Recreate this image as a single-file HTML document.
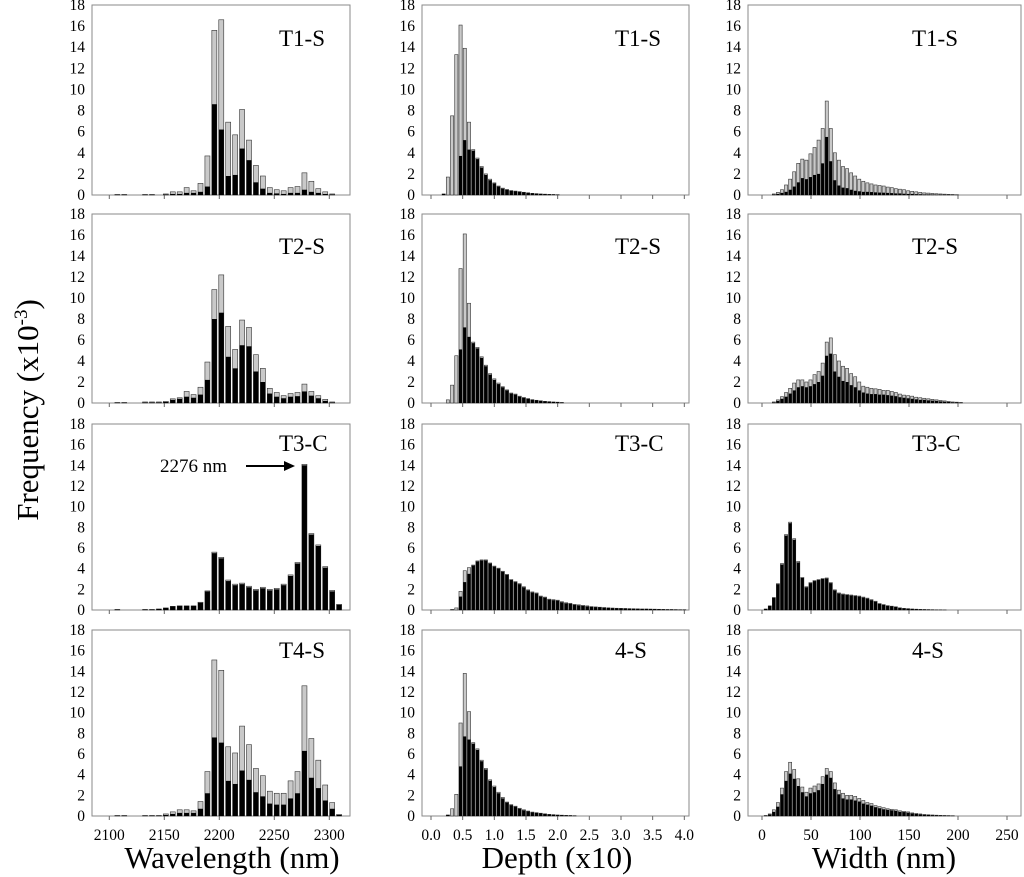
<!DOCTYPE html>
<html><head><meta charset="utf-8">
<style>
html,body{margin:0;padding:0;background:#fff;}
svg{display:block;font-family:"Liberation Serif",serif;}
</style></head>
<body>
<svg id="fig" width="1024" height="877" viewBox="0 0 1024 877" xmlns="http://www.w3.org/2000/svg">
<text x="0" y="0" transform="translate(38,410) rotate(-90)" text-anchor="middle" font-size="31">Frequency (x10<tspan dy="-11" font-size="19">-3</tspan><tspan dy="11">)</tspan></text>
<text x="232" y="868" text-anchor="middle" font-size="31">Wavelength (nm)</text>
<text x="557" y="868" text-anchor="middle" font-size="31">Depth (x10)</text>
<text x="884" y="868" text-anchor="middle" font-size="31">Width (nm)</text>
</svg>
<script>
// ---------- Wavelength column (bins: 2101 + 6.3*k) ----------
const wlStep = 6.3;
const wlStart = 2101;
const wlT1Idx = [1,2,5,6,8,9,10,11,12,13,14,15,16,17,18,19,20,21,22,23,24,25,26,27,28,29,30,31,32];
const wlT1Tot = [0.05,0.05,0.05,0.05,0.1,0.3,0.3,0.7,0.4,1.1,3.7,15.6,16.6,6.9,5.7,8.1,5.2,2.8,1.8,0.7,0.5,0.4,0.7,0.8,2.1,1.3,0.6,0.3,0.1];
const wlT1Blk = [0.02,0.02,0.02,0.02,0.05,0.1,0.1,0.2,0.2,0.3,0.8,8.6,6.2,1.8,1.9,4.4,3.3,1.2,0.6,0.2,0.15,0.1,0.2,0.2,0.5,0.3,0.2,0.1,0.05];
const wlT2Idx = [1,2,5,6,7,8,9,10,11,12,13,14,15,16,17,18,19,20,21,22,23,24,25,26,27,28,29,30,31,32];
const wlT2Tot = [0.05,0.05,0.1,0.1,0.1,0.15,0.4,0.5,1.1,0.8,1.5,3.9,10.8,12.2,7.3,5.1,7.9,7.2,4.6,3.3,1.4,1.0,0.7,0.9,1.0,1.8,1.1,0.7,0.35,0.1];
const wlT2Blk = [0.02,0.02,0.05,0.05,0.05,0.1,0.3,0.4,0.6,0.5,0.8,2.2,8.0,8.6,4.4,3.3,5.5,5.4,3.0,2.0,0.9,0.6,0.45,0.6,0.65,1.1,0.7,0.45,0.2,0.05];
const wlT3Idx = [1,5,6,7,8,9,10,11,12,13,14,15,16,17,18,19,20,21,22,23,24,25,26,27,28,29,30,31,32,33];
const wlT3Blk = [0.05,0.05,0.05,0.1,0.2,0.35,0.4,0.4,0.4,0.7,1.8,5.5,5.0,2.8,2.4,2.5,2.2,1.9,2.1,1.9,2.0,2.4,3.3,4.5,14.0,7.3,6.2,4.1,1.8,0.5];
const wlT3Tot = [0.05,0.05,0.05,0.1,0.2,0.35,0.4,0.4,0.4,0.75,1.85,5.6,5.1,2.9,2.5,2.6,2.3,2.0,2.2,2.0,2.1,2.5,3.4,4.6,14.1,7.4,6.3,4.2,1.9,0.55];
const wlT4Idx = [1,2,5,6,7,8,9,10,11,12,13,14,15,16,17,18,19,20,21,22,23,24,25,26,27,28,29,30,31,32,33];
const wlT4Tot = [0.05,0.05,0.05,0.05,0.05,0.2,0.4,0.6,0.6,0.5,1.4,4.3,15.1,14.1,6.7,6.1,8.7,6.9,4.6,3.9,2.4,2.2,2.2,3.4,4.3,12.6,7.5,5.4,3.0,1.3,0.15];
const wlT4Blk = [0.02,0.02,0.02,0.02,0.02,0.1,0.2,0.3,0.3,0.3,0.7,2.2,7.6,7.1,3.4,3.1,4.4,3.5,2.3,1.9,1.2,1.1,1.1,1.7,2.2,6.3,3.7,2.7,1.5,0.7,0.1];
const wlTicks = [2100,2150,2200,2250,2300];

// ---------- Depth column (bins: k/15) ----------
const dpStep = 1/15;
const dpT1Start = 3;
const dpT1Tot = [0.1,1.7,7.5,13.3,16.1,13.9,6.9,4.3,3.5,2.7,2.0,1.5,1.15,0.85,0.65,0.52,0.42,0.37,0.32,0.26,0.21,0.16,0.13,0.1,0.08,0.06,0.05,0.03];
const dpT1Blk = [0.1,0,0,0,3.7,5.2,4.3,4.2,3.4,2.6,1.9,1.4,1.1,0.8,0.6,0.5,0.4,0.35,0.3,0.25,0.2,0.15,0.12,0.1,0.08,0.06,0.05,0.03];
const dpT2Start = 4;
const dpT2Tot = [0.3,1.7,4.5,12.8,16.1,9.5,5.8,5.3,4.4,3.6,2.8,2.3,1.9,1.55,1.25,0.95,0.85,0.65,0.52,0.42,0.32,0.26,0.21,0.16,0.13,0.1,0.08,0.05];
const dpT2Blk = [0,0,0,5.1,7.2,6.3,5.7,5.2,4.3,3.5,2.7,2.2,1.8,1.5,1.2,0.9,0.8,0.6,0.5,0.4,0.3,0.25,0.2,0.15,0.12,0.1,0.08,0.05];
const dpT3Start = 5;
const dpT3Tot = [0.05,0.2,1.8,3.8,4.1,4.35,4.75,4.85,4.85,4.55,4.25,4.05,3.75,3.45,2.95,2.75,2.55,2.25,1.95,1.75,1.65,1.35,1.25,1.05,1.0,0.95,0.8,0.7,0.65,0.55,0.5,0.45,0.4,0.33,0.3,0.27,0.24,0.21,0.19,0.17,0.16,0.15,0.13,0.12,0.11,0.1,0.1,0.09,0.08,0.07,0.06,0.05,0.05,0.04,0.03,0.03];
const dpT3Blk = [0.03,0,1.3,2.7,3.5,4.3,4.7,4.8,4.8,4.5,4.2,4.0,3.7,3.4,2.9,2.7,2.5,2.2,1.9,1.7,1.6,1.3,1.2,1.0,0.95,0.9,0.75,0.65,0.6,0.5,0.45,0.4,0.35,0.3,0.28,0.25,0.22,0.2,0.18,0.16,0.15,0.14,0.13,0.12,0.11,0.1,0.1,0.09,0.08,0.07,0.06,0.05,0.05,0.04,0.03,0.03];
const dpT4Start = 4;
const dpT4Tot = [0.1,0.7,2.1,9.0,13.8,10.1,7.1,6.5,5.4,4.6,3.5,2.9,2.3,1.8,1.35,1.1,0.95,0.75,0.6,0.48,0.38,0.32,0.27,0.21,0.16,0.13,0.1,0.08,0.06,0.05,0.03];
const dpT4Blk = [0.1,0,0,4.8,7.7,7.4,7.0,6.4,5.3,4.5,3.4,2.8,2.2,1.7,1.3,1.05,0.9,0.7,0.55,0.45,0.35,0.3,0.25,0.2,0.15,0.12,0.1,0.08,0.06,0.05,0.03];
const dpTicks = [0,0.5,1,1.5,2,2.5,3,3.5,4];

// ---------- Width column (bins: 3.8 + 4.15*k) ----------
const wdStep = 4.15;
const wdStart = 3.8;
const wdT1Start = 2;
const wdT1Tot = [0.1,0.25,0.5,0.95,1.5,2.2,3.0,3.4,3.3,3.9,4.5,5.2,6.3,8.9,6.3,4.0,3.3,2.7,2.5,2.1,1.8,1.5,1.3,1.15,1.05,0.95,0.9,0.85,0.75,0.7,0.6,0.55,0.5,0.4,0.35,0.3,0.25,0.2,0.18,0.15,0.12,0.1,0.08,0.06,0.05,0.03];
const wdT1Blk = [0.05,0.1,0.2,0.3,0.5,0.8,1.2,1.6,1.5,1.7,1.9,2.0,3.0,5.5,3.2,1.4,0.9,0.7,0.65,0.5,0.4,0.35,0.3,0.3,0.28,0.25,0.23,0.22,0.2,0.18,0.15,0.15,0.12,0.1,0.1,0.08,0.07,0.05,0.05,0.04,0.03,0.03,0.02,0.02,0.01,0.01];
const wdT2Start = 2;
const wdT2Tot = [0.1,0.3,0.6,1.0,1.4,1.9,2.2,2.2,2.0,2.2,2.7,3.0,3.8,5.8,6.2,4.6,4.0,3.5,3.3,2.8,2.5,2.0,1.6,1.5,1.4,1.35,1.3,1.2,1.2,1.1,1.0,0.85,0.75,0.7,0.65,0.55,0.5,0.45,0.4,0.35,0.3,0.25,0.2,0.15,0.1,0.08,0.05];
const wdT2Blk = [0.05,0.2,0.4,0.6,0.9,1.2,1.5,1.6,1.5,1.6,1.8,2.0,2.6,4.5,4.7,3.0,2.5,2.1,2.0,1.7,1.5,1.2,1.0,0.9,0.85,0.85,0.8,0.8,0.75,0.7,0.65,0.55,0.5,0.45,0.4,0.35,0.3,0.3,0.25,0.22,0.2,0.15,0.12,0.1,0.06,0.05,0.03];
const wdT3Start = 0;
const wdT3Blk = [0.1,0.4,1.2,2.5,4.4,7.2,8.4,6.8,4.6,3.1,2.2,2.6,2.8,2.9,3.0,3.05,2.6,1.9,1.6,1.5,1.45,1.4,1.35,1.3,1.2,1.1,0.95,0.8,0.6,0.5,0.4,0.35,0.3,0.2,0.15,0.12,0.1,0.08,0.06,0.05,0.04,0.03,0.02,0.02,0.01];
const wdT3Tot = [0.1,0.4,1.2,2.55,4.5,7.3,8.5,6.9,4.7,3.15,2.25,2.65,2.85,2.95,3.05,3.1,2.65,1.95,1.65,1.55,1.5,1.45,1.4,1.35,1.25,1.15,1.0,0.85,0.62,0.52,0.42,0.37,0.31,0.21,0.16,0.13,0.1,0.08,0.06,0.05,0.04,0.03,0.02,0.02,0.01];
const wdT4Start = 0;
const wdT4Tot = [0.05,0.2,0.6,1.3,2.7,4.3,5.2,4.5,3.6,2.8,2.3,2.7,2.9,3.1,3.8,4.6,4.3,3.2,2.5,2.2,2.0,2.0,1.9,1.7,1.5,1.3,1.2,1.0,0.9,0.8,0.7,0.65,0.6,0.5,0.45,0.4,0.3,0.25,0.2,0.15,0.12,0.1,0.08,0.06,0.05,0.04,0.03];
const wdT4Blk = [0.03,0.15,0.4,0.9,2.1,3.4,4.1,3.6,2.9,2.3,1.9,2.2,2.3,2.5,3.1,4.0,3.7,2.6,2.1,1.7,1.6,1.6,1.5,1.4,1.2,1.1,1.0,0.85,0.75,0.65,0.6,0.55,0.5,0.4,0.38,0.32,0.25,0.2,0.16,0.12,0.1,0.08,0.06,0.05,0.04,0.03,0.02];
const wdTicks = [0,50,100,150,200,250];

const yTicks = [0,2,4,6,8,10,12,14,16,18];
const panelLabels = [["T1-S","T1-S","T1-S"],["T2-S","T2-S","T2-S"],["T3-C","T3-C","T3-C"],["T4-S","4-S","4-S"]];

const NS = "http://www.w3.org/2000/svg";
const svg = document.getElementById("fig");
const rows = [{top:5,bot:195,lab:41},{top:214,bot:403,lab:40},{top:424,bot:610,lab:27},{top:630,bot:816,lab:28}];
const cols = [
  {left:92,right:350,x0:2100,px0:109.3,ppu:1.1,bw:5.0,ticks:wlTicks,fmt:v=>String(v),labelX:279},
  {left:422,right:689,x0:0,px0:431,ppu:63.33,bw:3.2,ticks:dpTicks,fmt:v=>v.toFixed(1),labelX:615},
  {left:748,right:1021,x0:0,px0:762,ppu:0.98,bw:3.1,ticks:wdTicks,fmt:v=>String(v),labelX:912}
];
function xScale(c,v){return c.px0+(v-c.x0)*c.ppu;}
function yScale(r,v){return r.bot-v/18*(r.bot-r.top);}
function mk(tag,attrs){const e=document.createElementNS(NS,tag);for(const k in attrs)e.setAttribute(k,attrs[k]);return e;}

const series = [
 [ {x:wlT1Idx.map(k=>wlStart+wlStep*k),tot:wlT1Tot,blk:wlT1Blk},
   {x:dpT1Tot.map((_,i)=>(dpT1Start+i)*dpStep),tot:dpT1Tot,blk:dpT1Blk},
   {x:wdT1Tot.map((_,i)=>wdStart+(wdT1Start+i)*wdStep),tot:wdT1Tot,blk:wdT1Blk} ],
 [ {x:wlT2Idx.map(k=>wlStart+wlStep*k),tot:wlT2Tot,blk:wlT2Blk},
   {x:dpT2Tot.map((_,i)=>(dpT2Start+i)*dpStep),tot:dpT2Tot,blk:dpT2Blk},
   {x:wdT2Tot.map((_,i)=>wdStart+(wdT2Start+i)*wdStep),tot:wdT2Tot,blk:wdT2Blk} ],
 [ {x:wlT3Idx.map(k=>wlStart+wlStep*k),tot:wlT3Tot,blk:wlT3Blk},
   {x:dpT3Tot.map((_,i)=>(dpT3Start+i)*dpStep),tot:dpT3Tot,blk:dpT3Blk},
   {x:wdT3Tot.map((_,i)=>wdStart+(wdT3Start+i)*wdStep),tot:wdT3Tot,blk:wdT3Blk} ],
 [ {x:wlT4Idx.map(k=>wlStart+wlStep*k),tot:wlT4Tot,blk:wlT4Blk},
   {x:dpT4Tot.map((_,i)=>(dpT4Start+i)*dpStep),tot:dpT4Tot,blk:dpT4Blk},
   {x:wdT4Tot.map((_,i)=>wdStart+(wdT4Start+i)*wdStep),tot:wdT4Tot,blk:wdT4Blk} ]
];

rows.forEach((r,ri)=>{
  cols.forEach((c,ci)=>{
    const g=mk("g",{});
    
    
    svg.appendChild(g);
    const frame=mk("rect",{x:c.left,y:r.top,width:c.right-c.left,height:r.bot-r.top,fill:"none",stroke:"#8a8a8a","stroke-width":1});
    
    
    g.appendChild(frame);
    yTicks.forEach(t=>{
      const tx=mk("text",{x:c.left-7,y:yScale(r,t)+5,"text-anchor":"end","font-size":15.5});
      tx.textContent=t;
      
      
      g.appendChild(tx);
    });
    c.ticks.forEach(t=>{
      const x=xScale(c,t);
      const tk=mk("line",{x1:x,x2:x,y1:r.bot,y2:r.bot+4,stroke:"#666","stroke-width":1});
      
      
      g.appendChild(tk);
      if(ri===3){
        const tl=mk("text",{x:x,y:r.bot+24,"text-anchor":"middle","font-size":15.5});
        tl.textContent=c.fmt(t);
        
        
        g.appendChild(tl);
      }
    });
    const s=series[ri][ci];
    s.x.forEach((xv,i)=>{
      const cx=xScale(c,xv);
      const yt=yScale(r,s.tot[i]);
      const gr=mk("rect",{x:cx-c.bw/2,y:yt,width:c.bw,height:Math.max(r.bot-yt,0),fill:"#c9c9c9",stroke:"#333","stroke-width":0.6});
      
      
      g.appendChild(gr);
      const yb=yScale(r,s.blk[i]);
      const bk=mk("rect",{x:cx-c.bw/2,y:yb,width:c.bw,height:Math.max(r.bot-yb,0),fill:"#000"});
      
      
      g.appendChild(bk);
    });
    const lb=mk("text",{x:c.labelX,y:r.top+r.lab,"font-size":23});
    lb.textContent=panelLabels[ri][ci];
    
    
    g.appendChild(lb);
  });
});
// annotation in T3-C wavelength panel
const ann=mk("text",{x:160,y:472,"font-size":19});
ann.textContent="2276 nm";


svg.appendChild(ann);
const arr=mk("line",{x1:246,x2:286,y1:466,y2:466,stroke:"#000","stroke-width":2});


svg.appendChild(arr);
const head=mk("polygon",{points:"295,466 284,461 284,471",fill:"#000"});


svg.appendChild(head);
</script>
</body></html>
